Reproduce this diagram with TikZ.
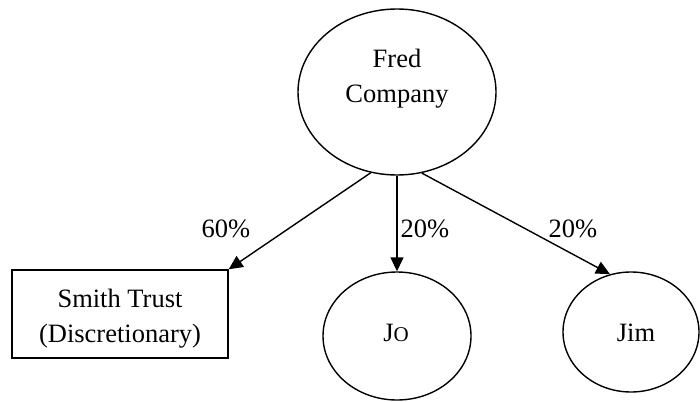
\documentclass[tikz,border=0pt]{standalone}
\usepackage{fontspec}
\setmainfont{Liberation Serif}
\usetikzlibrary{shapes.geometric,arrows.meta}
\begin{document}
\begin{tikzpicture}[x=1pt,y=-1pt,
  every node/.style={font=\fontsize{26.5}{35}\selectfont},
  oval/.style={draw,ellipse,line width=1.4pt,inner sep=0pt},
  box/.style={draw,rectangle,line width=1.4pt,inner sep=0pt},
  txt/.style={align=center,inner sep=0pt},
  link/.style={line width=1.4pt,-{Triangle[length=14pt,width=13pt]}},
  pct/.style={inner sep=0pt}]
\useasboundingbox (0,0) rectangle (700,401);
\node[oval,minimum width=198pt,minimum height=166pt] (fred) at (397,92) {};
\node[txt] (fredtxt) at (397,79) {Fred\\Company};
\node[box,minimum width=216pt,minimum height=88pt] (trust) at (120,314) {};
\node[txt] (trusttxt) at (120,319) {Smith Trust\\(Discretionary)};
\node[oval,minimum width=148pt,minimum height=128pt] (jo) at (397,336) {};
\node[txt] (jotxt) at (396,333) {J{\fontsize{21}{21}\selectfont O}};
\node[oval,minimum width=136pt,minimum height=120pt] (jim) at (631,332) {};
\node[txt] (jimtxt) at (636,333) {Jim};
\draw[link] (fred.252) -- (trust.north east);
\draw[link] (fred.south) -- (jo.north);
\draw[link] (fred.287) -- (jim.110);
\node[pct] (p1) at (226,229) {60\%};
\node[pct] (p2) at (425,229) {20\%};
\node[pct] (p3) at (573,229) {20\%};
\end{tikzpicture}
\end{document}
